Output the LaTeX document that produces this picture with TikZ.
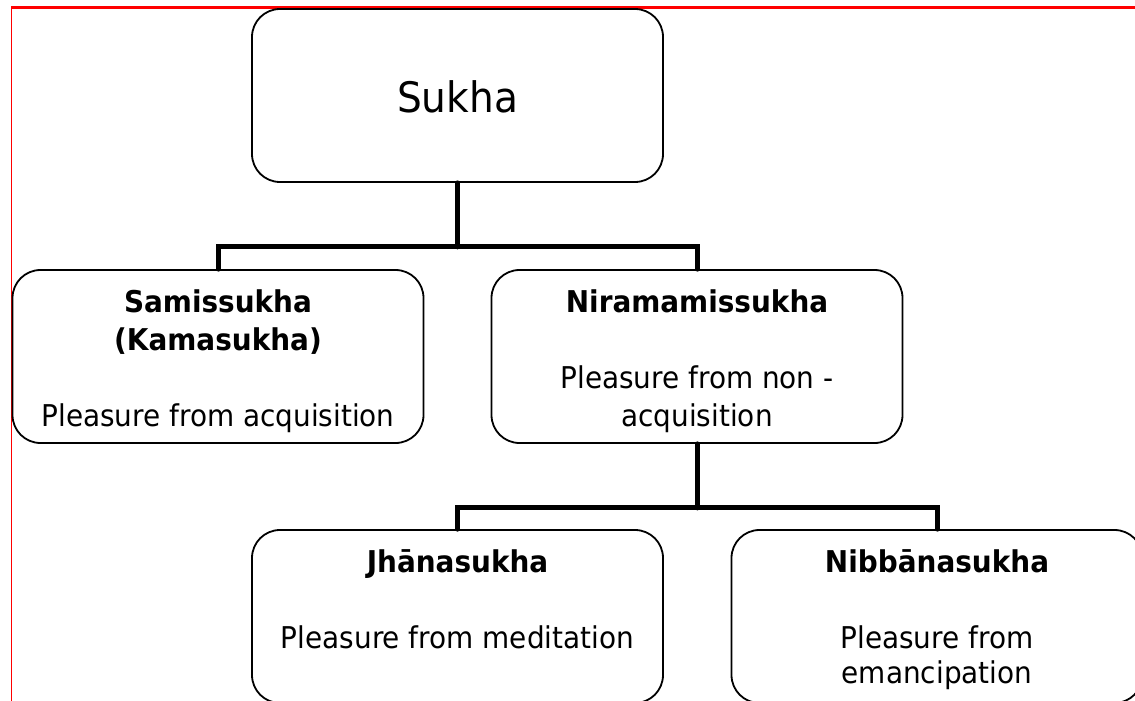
\documentclass[tikz,border=0pt]{standalone}
\usepackage{fontspec}
\setmainfont{DejaVu Sans}[FakeStretch=0.93]
\definecolor{frame}{RGB}{255,0,0}
\begin{document}
\begin{tikzpicture}[x=1pt, y=-1pt,
  box/.style={draw=black, line width=1.8pt, rounded corners=28pt,
    minimum width=411pt, minimum height=173pt, inner sep=0pt},
  conn/.style={draw=black, line width=5pt, line cap=round},
  title/.style={anchor=base, font=\fontsize{30}{36}\selectfont\bfseries},
  body/.style={anchor=base, font=\fontsize{30}{36}\selectfont},
  top/.style={anchor=base, font=\fontsize{42}{50}\selectfont}]
\useasboundingbox (0,0) rectangle (1135,701);
\clip (0,0) rectangle (1135,701);
\fill[white] (0,0) rectangle (1135,701);

% page frame
\draw[frame, line width=2.4pt] (11,7.5) -- (1136,7.5);
\draw[frame, line width=1.5pt] (11.5,6.5) -- (11.5,702);

% boxes
\node[box] (sukha) at (457.5,95.5) {};
\node[box] (sam)   at (218,356.5) {};
\node[box] (nir)   at (697,356.5) {};
\node[box] (jha)   at (457.5,616.5) {};
\node[box] (nib)   at (937,616.5) {};

% connectors
\draw[conn] (sukha.south) -- ++(0,64) coordinate (j1);
\draw[conn] (sam.north) |- (j1) -| (nir.north);
\draw[conn] (nir.south) -- ++(0,64) coordinate (j2);
\draw[conn] (jha.north) |- (j2) -| (nib.north);

% labels
\node[top]   (t-sukha) at (457.5,112) {Sukha};

\node[title] (t-sam1) at (218,312) {Samissukha};
\node[title] (t-sam2) at (218,350) {(Kamasukha)};
\node[body]  (t-sam3) at (218,426) {Pleasure from acquisition};

\node[title] (t-nir1) at (697,312) {Niramamissukha};
\node[body]  (t-nir2) at (697,388) {Pleasure from non -};
\node[body]  (t-nir3) at (697,426) {acquisition};

\node[title] (t-jha1) at (457.5,572) {Jhānasukha};
\node[body]  (t-jha2) at (457.5,648) {Pleasure from meditation};

\node[title] (t-nib1) at (937,572) {Nibbānasukha};
\node[body]  (t-nib2) at (937,648) {Pleasure from};
\node[body]  (t-nib3) at (937,683) {emancipation};
\end{tikzpicture}
\end{document}
